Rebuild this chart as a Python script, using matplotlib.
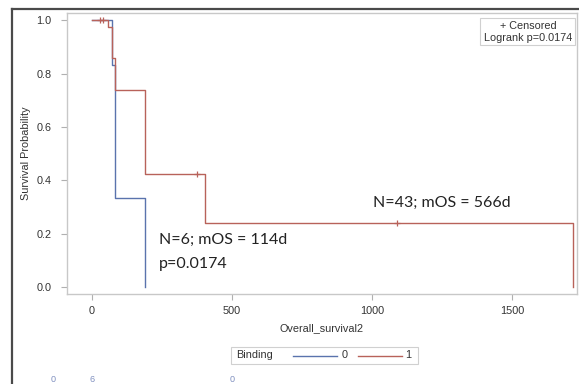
import matplotlib
matplotlib.use("Agg")
import matplotlib.pyplot as plt
from matplotlib.lines import Line2D
from matplotlib.patches import Rectangle
import matplotlib.transforms as mtransforms

# ---- data ----
time_b0 = [0, 71, 82, 189]
surv_b0 = [1.0, 0.833, 0.333, 0.0]
time_b1 = [0, 57, 71, 82, 189, 404, 1718]
surv_b1 = [1.0, 0.975, 0.86, 0.74, 0.424, 0.24, 0.0]
cens_t_b1 = [30, 38, 375, 1089]
cens_s_b1 = [1.0, 1.0, 0.424, 0.24]
xticks = [0, 500, 1000, 1500]
yticks = [0.0, 0.2, 0.4, 0.6, 0.8, 1.0]
risk_times = [0, 500]
risk_b0 = [6, 0]
group_labels = ["0", "1"]

BLUE = "#5a73ad"
RED = "#b8625a"
TXT = "#333333"
SASFONT = ["Liberation Sans", "DejaVu Sans"]
ANNFONT = ["Lato", "DejaVu Sans"]

W, H = 579, 384
fig = plt.figure(figsize=(W / 100, H / 100), dpi=100)
fig.patch.set_facecolor("white")

def fx(px):
    return px / W

def fy(py):
    return 1 - py / H

ax = fig.add_axes([fx(67), fy(294), (577 - 67) / W, (294 - 13) / H])
ax.set_xlim(-89, 1732)
ax.set_ylim(-0.026, 1.027)

ax.step(time_b0, surv_b0, where="post", color=BLUE, lw=1.0)
ax.step(time_b1, surv_b1, where="post", color=RED, lw=1.0)
ax.plot(cens_t_b1, cens_s_b1, linestyle="none", marker="+", color=RED,
        markersize=4, markeredgewidth=0.9)

for s in ax.spines.values():
    s.set_color("#c8c8c8")
    s.set_linewidth(1.0)
ax.set_xticks(xticks)
ax.set_xticklabels([str(t) for t in xticks])
ax.set_yticks(yticks)
ax.set_yticklabels([f"{v:.1f}" for v in yticks])
ax.tick_params(axis="both", direction="out", length=4, width=0.8,
               color="#b0b0b0", labelsize=7.8, labelcolor=TXT)
ax.tick_params(axis="y", pad=7)
ax.tick_params(axis="x", pad=5)
for lab in ax.get_xticklabels() + ax.get_yticklabels():
    lab.set_family(SASFONT)

ax.set_xlabel("Overall_survival2", fontsize=7.8, color=TXT, family=SASFONT,
              labelpad=5)
ax.set_ylabel("Survival Probability", fontsize=7.8, color=TXT, family=SASFONT,
              labelpad=4)

# annotations
ax.text(240, 0.175, "N=6; mOS = 114d", fontsize=11.5, family=ANNFONT,
        color="#222222", va="center", ha="left")
ax.text(240, 0.087, "p=0.0174", fontsize=11.5, family=ANNFONT,
        color="#222222", va="center", ha="left")
ax.text(1250, 0.315, "N=43; mOS = 566d", fontsize=11.5, family=ANNFONT,
        color="#222222", va="center", ha="center")

# inset legend (censored / logrank)
fig.add_artist(Rectangle((fx(480), fy(45)), (575 - 480) / W, (45 - 18) / H,
                         transform=fig.transFigure, facecolor="white",
                         edgecolor="#d0d0d0", lw=0.8))
fig.text(fx(528), fy(26), "+ Censored", fontsize=7.8, family=SASFONT,
         color=TXT, ha="center", va="center")
fig.text(fx(528), fy(38), "Logrank p=0.0174", fontsize=7.8, family=SASFONT,
         color=TXT, ha="center", va="center")

# bottom legend
fig.add_artist(Rectangle((fx(231), fy(364)), (418 - 231) / W, (364 - 347) / H,
                         transform=fig.transFigure, facecolor="white",
                         edgecolor="#d0d0d0", lw=0.8))
fig.text(fx(236), fy(355.5), "Binding", fontsize=7.8, family=SASFONT,
         color=TXT, ha="left", va="center")
fig.add_artist(Line2D([fx(293), fx(337)], [fy(355.5), fy(355.5)],
                      transform=fig.transFigure, color=BLUE, lw=1.0))
fig.text(fx(345), fy(355.5), group_labels[0], fontsize=7.8, family=SASFONT,
         color=TXT, ha="center", va="center")
fig.add_artist(Line2D([fx(358), fx(402)], [fy(355.5), fy(355.5)],
                      transform=fig.transFigure, color=RED, lw=1.0))
fig.text(fx(408), fy(355.5), group_labels[1], fontsize=7.8, family=SASFONT,
         color=TXT, ha="center", va="center")

# at-risk row (cut off)
blend = mtransforms.blended_transform_factory(ax.transData, fig.transFigure)
fig.text(fx(53), fy(379), group_labels[0], fontsize=6.5, family=SASFONT,
         color="#7f8fbf", ha="center", va="center")
for t, n in zip(risk_times, risk_b0):
    ax.text(t, fy(379), str(n), transform=blend, fontsize=6.5, family=SASFONT,
            color="#7f8fbf", ha="center", va="center", clip_on=False)

# outer frame
fig.add_artist(Line2D([fx(12), fx(12)], [0, fy(9)], transform=fig.transFigure,
                      color="#4a4a4a", lw=1.6))
fig.add_artist(Line2D([fx(12), 1], [fy(9), fy(9)], transform=fig.transFigure,
                      color="#4a4a4a", lw=1.6))

fig.savefig("out.png", dpi=100)
